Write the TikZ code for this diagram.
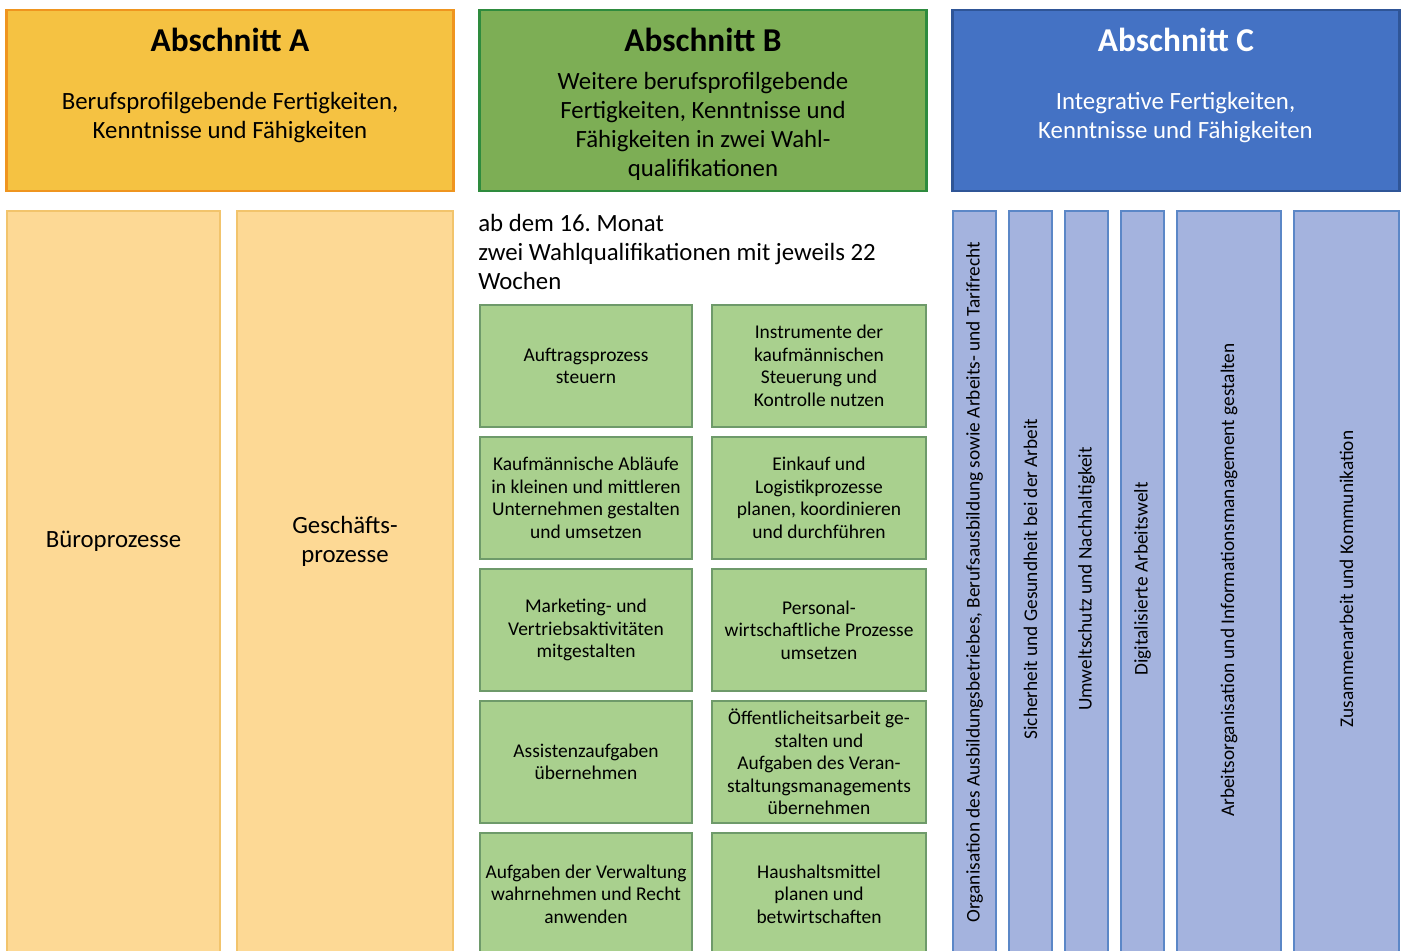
\documentclass[tikz,border=0pt]{standalone}
\usepackage{fontspec}
\setmainfont{Carlito}
\usepackage{tikz}
\usetikzlibrary{positioning}
\usetikzlibrary{calc}

\definecolor{gelbA}{HTML}{F5C242}
\definecolor{orangeA}{HTML}{EF951F}
\definecolor{hellA}{HTML}{FDD995}
\definecolor{randA}{HTML}{F2C46C}
\definecolor{gruenB}{HTML}{7DAE55}
\definecolor{randB}{HTML}{2E8B3E}
\definecolor{hellB}{HTML}{A9D08E}
\definecolor{randWQ}{HTML}{6E9A6A}
\definecolor{blauC}{HTML}{4472C4}
\definecolor{randC}{HTML}{2F5597}
\definecolor{hellC}{HTML}{A4B3DE}
\definecolor{randSC}{HTML}{5B87C7}

\frenchspacing
\begin{document}
\begin{tikzpicture}[x=0.75pt,y=-0.75pt]
\tikzstyle{kopf}=[draw, line width=2pt, minimum width=335.25pt, minimum 
height=135.75pt, inner sep=0pt, outer sep=0pt]
\tikzstyle{titel}=[inner sep=0pt, font=\bfseries\fontsize{25}{28}\selectfont]
\tikzstyle{kopftext}=[inner sep=0pt, align=center, 
font=\fontsize{18.6}{21.75}\selectfont]
\tikzstyle{spalteA}=[draw=randA, fill=hellA, line width=1.6pt, minimum 
height=561.75pt, inner sep=0pt, outer sep=0pt]
\tikzstyle{wq}=[draw=randWQ, fill=hellB, line width=2pt, minimum width=159pt, 
minimum height=91.5pt, inner sep=0pt, outer sep=0pt, align=center, 
font=\fontsize{14.6}{16.9}\selectfont]
\tikzstyle{spalteC}=[draw=randSC, fill=hellC, line width=1.6pt, minimum 
height=561.75pt, inner sep=0pt, outer sep=0pt]
\tikzstyle{quer}=[rotate=90, inner sep=0pt, font=\fontsize{14.5}{16}\selectfont]

	\useasboundingbox (0,0) rectangle (1408,950);
	\clip (0,0) rectangle (1408,950);

	% headers
	\node [kopf, fill=gelbA, draw=orangeA] (hA) at (230,100.5) {};
	\node [kopf, fill=gruenB, draw=randB, right = 19.5pt of hA] (hB) {};
	\node [kopf, fill=blauC, draw=randC, right = 19.5pt of hB] (hC) {};
	\node [titel] (tA) at ($(hA.north)+(0,30)$) {Abschnitt A};
	\node [titel] (tB) at ($(hB.north)+(0,30)$) {Abschnitt B};
	\node [titel, text=white] (tC) at ($(hC.north)+(0,30)$) {Abschnitt C};
	\node [kopftext] (dA) at (230,118) {Berufsprofilgebende 
	Fertigkeiten,\\Kenntnisse und Fähigkeiten};
	\node [kopftext] (dB) at (703,126) {Weitere berufsprofilgebende\\Fertigkeiten, 
	Kenntnisse und\\Fähigkeiten in zwei Wahl-\\qualifikationen};
	\node [kopftext, text=white] (dC) at (1175.5,118) {Integrative 
	Fertigkeiten,\\Kenntnisse und Fähigkeiten};

	% Abschnitt A
	\node [spalteA, minimum width=159.75pt] (a1) at (113.5,585.5) {};
	\node [spalteA, minimum width=162pt, right = 12.75pt of a1] (a2) {};
	\node [kopftext] (ta1) at (113.5,541) {Büroprozesse};
	\node [kopftext] (ta2) at (345,541) {Geschäfts-\\prozesse};

	% Abschnitt B
	\node [kopftext, anchor=north west, align=left, 
	font=\fontsize{18.6}{21.4}\selectfont] (zeit) at (478,214.5) {ab dem 16. 
	Monat\\zwei Wahlqualifikationen mit jeweils 22\\Wochen};
	\node [wq] (b1) at (586,366) {Auftragsprozess\\steuern};
	\node [wq, minimum width=160.5pt, right = 15pt of b1] (b2) {Instrumente 
	der\\kaufmännischen\\Steuerung und\\Kontrolle nutzen};
	\node [wq, below = 7.5pt of b1] (b3) {Kaufmännische Abläufe\\in kleinen und 
	mittleren\\Unternehmen gestalten\\und umsetzen};
	\node [wq, minimum width=160.5pt, right = 15pt of b3] (b4) {Einkauf 
	und\\Logistikprozesse\\planen, koordinieren\\und durchführen};
	\node [wq, below = 7.5pt of b3] (b5) {Marketing- und\\Vertriebsaktivitäten\\mitgestalten};
	\node [wq, minimum width=160.5pt, right = 15pt of b5] (b6) 
	{Personal-\\wirtschaftliche Prozesse\\umsetzen};
	\node [wq, below = 7.5pt of b5] (b7) {Assistenzaufgaben\\übernehmen};
	\node [wq, minimum width=160.5pt, right = 15pt of b7] (b8) {Öffentlicheitsarbeit 
	ge-\\stalten und\\Aufgaben des Veran-\\staltungsmanagements\\übernehmen};
	\node [wq, below = 7.5pt of b7] (b9) {Aufgaben der Verwaltung\\wahrnehmen und 
	Recht\\anwenden};
	\node [wq, minimum width=160.5pt, right = 15pt of b9] (b10) 
	{Haushaltsmittel\\planen und\\betwirtschaften};

	% Abschnitt C
	\node [spalteC, minimum width=32.25pt] (c1) at (974.5,585.5) {};
	\node [spalteC, minimum width=32.25pt, right = 9.75pt of c1] (c2) {};
	\node [spalteC, minimum width=32.25pt, right = 9.75pt of c2] (c3) {};
	\node [spalteC, minimum width=32.25pt, right = 9.75pt of c3] (c4) {};
	\node [spalteC, minimum width=78pt, right = 9.75pt of c4] (c5) {};
	\node [spalteC, minimum width=78.75pt, right = 9.75pt of c5] (c6) {};
	\node [quer] (tc1) at ($(c1.north)+(0,371)$) {Organisation des 
	Ausbildungsbetriebes, Berufsausbildung sowie Arbeits- und Tarifrecht};
	\node [quer] (tc2) at ($(c2.north)+(0,368)$) {Sicherheit und Gesundheit bei 
	der Arbeit};
	\node [quer] (tc3) at ($(c3.north)+(0,368)$) {Umweltschutz und 
	Nachhaltigkeit};
	\node [quer] (tc4) at ($(c4.north)+(0,368)$) {Digitalisierte Arbeitswelt};
	\node [quer] (tc5) at ($(c5.north)+(0,369)$) {Arbeitsorganisation und 
	Informationsmanagement gestalten};
	\node [quer] (tc6) at ($(c6.north)+(0,368)$) {Zusammenarbeit und 
	Kommunikation};
\end{tikzpicture}
\end{document}
